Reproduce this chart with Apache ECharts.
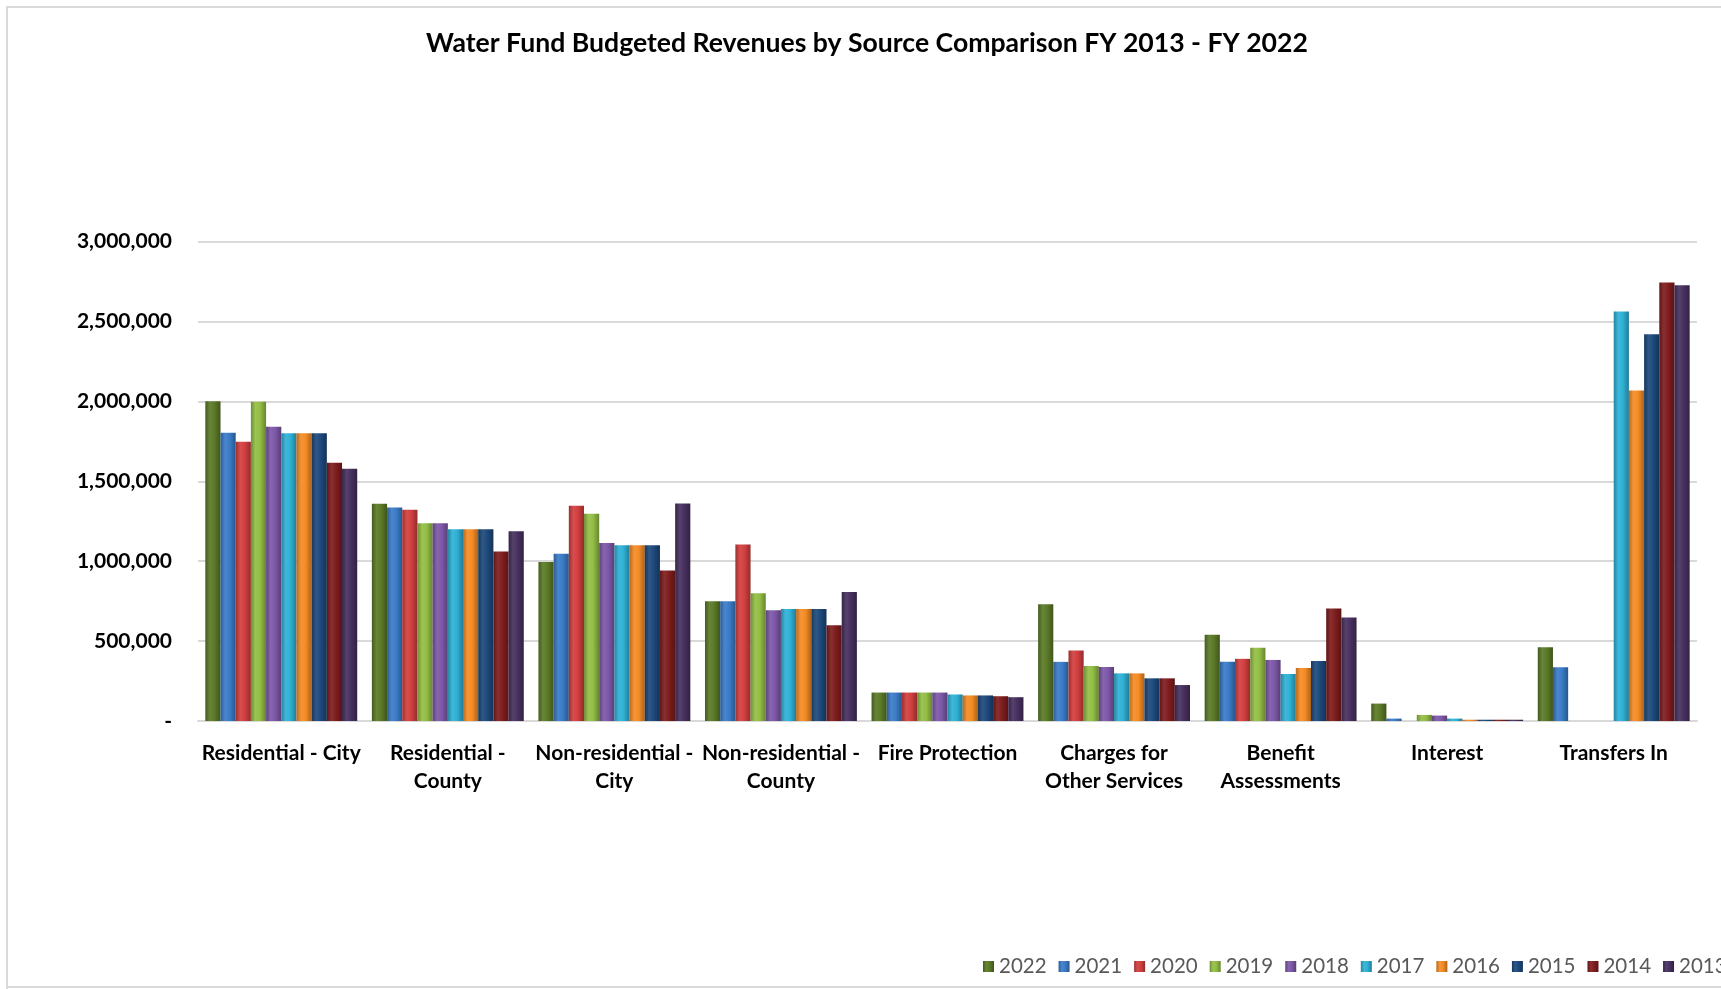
<!DOCTYPE html>
<html>
<head>
<meta charset="utf-8">
<script src="https://cdn.jsdelivr.net/npm/echarts@6/dist/echarts.min.js"></script>
<style>
  html, body { margin: 0; padding: 0; background: #fff; }
  #chart { width: 1721px; height: 989px; }
</style>
</head>
<body>
<div id="chart"></div>
<script>
const categories = [
  "Residential - City", "Residential -\nCounty", "Non-residential -\nCity",
  "Non-residential -\nCounty", "Fire Protection", "Charges for\nOther Services",
  "Benefit\nAssessments", "Interest", "Transfers In"
];
const years = ["2022", "2021", "2020", "2019", "2018", "2017", "2016", "2015", "2014", "2013"];

const v2022 = [2000000, 1359000, 995000, 750000, 178000, 731000, 540000, 109000, 462000];
const v2021 = [1804000, 1336000, 1046000, 750000, 178000, 370000, 370000, 15000, 337000];
const v2020 = [1747000, 1321000, 1347000, 1105000, 178000, 441000, 389000, 0, 0];
const v2019 = [1998000, 1237000, 1296000, 800000, 178000, 344000, 458000, 38000, 0];
const v2018 = [1841000, 1237000, 1113000, 693000, 178000, 338000, 382000, 34000, 0];
const v2017 = [1800000, 1200000, 1099000, 700000, 166000, 298000, 294000, 15000, 2562000];
const v2016 = [1800000, 1200000, 1099000, 700000, 160000, 298000, 332000, 8000, 2067000];
const v2015 = [1800000, 1200000, 1099000, 700000, 160000, 267000, 376000, 8000, 2419000];
const v2014 = [1616000, 1061000, 941000, 599000, 155000, 267000, 704000, 8000, 2744000];
const v2013 = [1578000, 1187000, 1361000, 807000, 149000, 225000, 647000, 8000, 2727000];

const seriesValues = [v2022, v2021, v2020, v2019, v2018, v2017, v2016, v2015, v2014, v2013];
const baseColors = ["#5b7a27", "#3a7cc8", "#d23f3f", "#93be45", "#7d58a8", "#2fb1d6", "#f58c25", "#1d497c", "#7f1d1e", "#47305f"];

function shade(hex, f) {
  const n = parseInt(hex.slice(1), 16);
  let r = (n >> 16) & 255, g = (n >> 8) & 255, b = n & 255;
  if (f < 0) { r = Math.round(r * (1 + f)); g = Math.round(g * (1 + f)); b = Math.round(b * (1 + f)); }
  else { r = Math.round(r + (255 - r) * f); g = Math.round(g + (255 - g) * f); b = Math.round(b + (255 - b) * f); }
  return "rgb(" + r + "," + g + "," + b + ")";
}
function grad(c) {
  return new echarts.graphic.LinearGradient(0, 0, 1, 0, [
    { offset: 0, color: shade(c, -0.25) },
    { offset: 0.3, color: shade(c, 0.08) },
    { offset: 0.6, color: c },
    { offset: 1, color: shade(c, -0.3) }
  ]);
}

const series = years.map((y, i) => ({
  name: y,
  type: "bar",
  data: seriesValues[i],
  barGap: "0%",
  barCategoryGap: "8.8%",
  itemStyle: { color: grad(baseColors[i]) },
  emphasis: { disabled: true }
}));

const chart = echarts.init(document.getElementById("chart"), null, { renderer: "canvas" });
chart.setOption({
  animation: false,
  backgroundColor: "#ffffff",
  title: {
    text: "Water Fund Budgeted Revenues by Source Comparison FY 2013 - FY 2022",
    left: 862, top: 25, textAlign: "center",
    textStyle: { fontFamily: "Lato", fontWeight: "bold", fontSize: 26.6, color: "#000" }
  },
  legend: {
    data: years,
    left: 978, top: 951, width: 1400,
    itemWidth: 11, itemHeight: 11, itemGap: 12,
    icon: "rect",
    textStyle: { fontFamily: "Lato", fontSize: 20.5, color: "#595959" }
  },
  grid: { left: 198, right: 24, top: 241.5, bottom: 268, containLabel: false },
  xAxis: {
    type: "category",
    data: categories,
    axisLine: { lineStyle: { color: "#d9d9d9", width: 2 } },
    axisTick: { show: false },
    axisLabel: {
      interval: 0, margin: 18, lineHeight: 28,
      fontFamily: "Lato", fontWeight: "bold", fontSize: 21, color: "#000"
    }
  },
  yAxis: {
    type: "value",
    min: 0, max: 3000000, interval: 500000,
    axisLine: { show: false },
    axisTick: { show: false },
    splitLine: { lineStyle: { color: "#d9d9d9", width: 2 } },
    axisLabel: {
      margin: 26,
      fontFamily: "Lato", fontWeight: "bold", fontSize: 21, color: "#000",
      formatter: v => v === 0 ? "-" : v.toLocaleString("en-US")
    }
  },
  graphic: [
    { type: "polyline", shape: { points: [[7, 989], [7, 7], [1721, 7]] }, style: { stroke: "#d9d9d9", lineWidth: 2, fill: null }, silent: true },
    { type: "line", shape: { x1: 7, y1: 987, x2: 1721, y2: 987 }, style: { stroke: "#d9d9d9", lineWidth: 2 }, silent: true }
  ],
  series: series
});
</script>
</body>
</html>
